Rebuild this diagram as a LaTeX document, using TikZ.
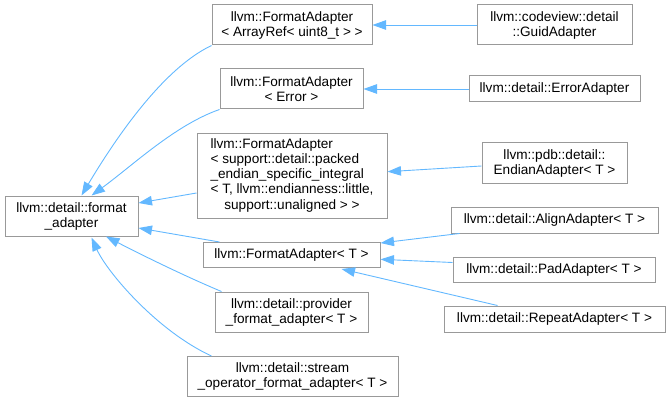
\documentclass[tikz,border=0pt]{standalone}
\usepackage{fontspec}
\setmainfont{Liberation Sans}
\usetikzlibrary{arrows.meta}
\definecolor{edgeblue}{HTML}{63B8FF}
\definecolor{boxgray}{HTML}{999999}
\begin{document}
\begin{tikzpicture}[x=1pt,y=-1pt,
  cls/.style={draw=boxgray, line width=1pt, fill=white, inner sep=0pt, align=center,
    font=\fontsize{13.6}{15}\selectfont},
  inh/.style={draw=edgeblue, line width=0.9pt, -{Triangle[length=13.5pt,width=9.5pt]}}]
\useasboundingbox (0,0) rectangle (669,401);
% base
\node[cls, minimum width=133pt, minimum height=40pt] (fmt) at (71.5,216) {llvm::detail::format\\\_adapter};
% middle column
\node[cls, minimum width=160pt, minimum height=40pt] (fa1) at (292,25) {llvm::FormatAdapter\\< ArrayRef< uint8\_t > >};
\node[cls, minimum width=143pt, minimum height=40pt] (fa2) at (291.5,89) {llvm::FormatAdapter\\< Error >};
\node[cls, minimum width=190pt, minimum height=84pt] (fa3) at (292,176) {\begin{tabular}{@{}l@{}}llvm::FormatAdapter\\< support::detail::packed\\\_endian\_specific\_integral\\< T, llvm::endianness::little,\\\multicolumn{1}{@{}c@{}}{support::unaligned > >}\end{tabular}};
\node[cls, minimum width=177pt, minimum height=25pt] (faT) at (291.5,255) {llvm::FormatAdapter< T >};
\node[cls, minimum width=153pt, minimum height=40pt] (prov) at (291.5,312) {llvm::detail::provider\\\_format\_adapter< T >};
\node[cls, minimum width=211pt, minimum height=40pt] (strm) at (292.5,376.5) {llvm::detail::stream\\\_operator\_format\_adapter< T >};
% right column
\node[cls, minimum width=155pt, minimum height=40pt] (guid) at (554.5,25) {llvm::codeview::detail\\::GuidAdapter};
\node[cls, minimum width=171pt, minimum height=26pt] (erra) at (554.5,89) {llvm::detail::ErrorAdapter};
\node[cls, minimum width=145pt, minimum height=40pt] (endn) at (554.5,163) {llvm::pdb::detail::\\EndianAdapter< T >};
\node[cls, minimum width=207pt, minimum height=26pt] (algn) at (554.5,220) {llvm::detail::AlignAdapter< T >};
\node[cls, minimum width=202pt, minimum height=25pt] (padA) at (554,269.5) {llvm::detail::PadAdapter< T >};
\node[cls, minimum width=221pt, minimum height=26pt] (rept) at (554.5,319) {llvm::detail::RepeatAdapter< T >};
% edges
\draw[inh] (guid.west) -- (fa1.east);
\draw[inh] (erra.west) -- (fa2.east);
\draw[inh] ([yshift=-3pt]endn.west) -- ([yshift=4.3pt]fa3.east);
\draw[inh] ([xshift=9pt]algn.south west) -- ([yshift=-1pt]faT.north east);
\draw[inh] ([yshift=7pt]padA.west) -- ([yshift=-4.3pt]faT.east);
\draw[inh] ([xshift=54pt]rept.north west) -- ([xshift=50pt,yshift=-1pt]faT.south);
\draw[inh] ([yshift=-17pt]fa3.west) -- ([yshift=13pt]fmt.east);
\draw[inh] ([xshift=17pt]faT.north west) -- ([yshift=-12pt]fmt.east);
\draw[inh] (fa1.south west) .. controls (162,69) and (114,141) .. ([xshift=10pt]fmt.north);
\draw[inh] (fa2.south west) .. controls (175,125) and (132,166) .. ([xshift=20pt]fmt.north);
\draw[inh] ([xshift=7pt]prov.north west) .. controls (182,275) and (136,252) .. ([xshift=34.5pt]fmt.south);
\draw[inh] ([xshift=25pt]strm.north west) .. controls (157,331) and (107,272) .. ([xshift=20pt,yshift=-1pt]fmt.south);
\end{tikzpicture}
\end{document}
